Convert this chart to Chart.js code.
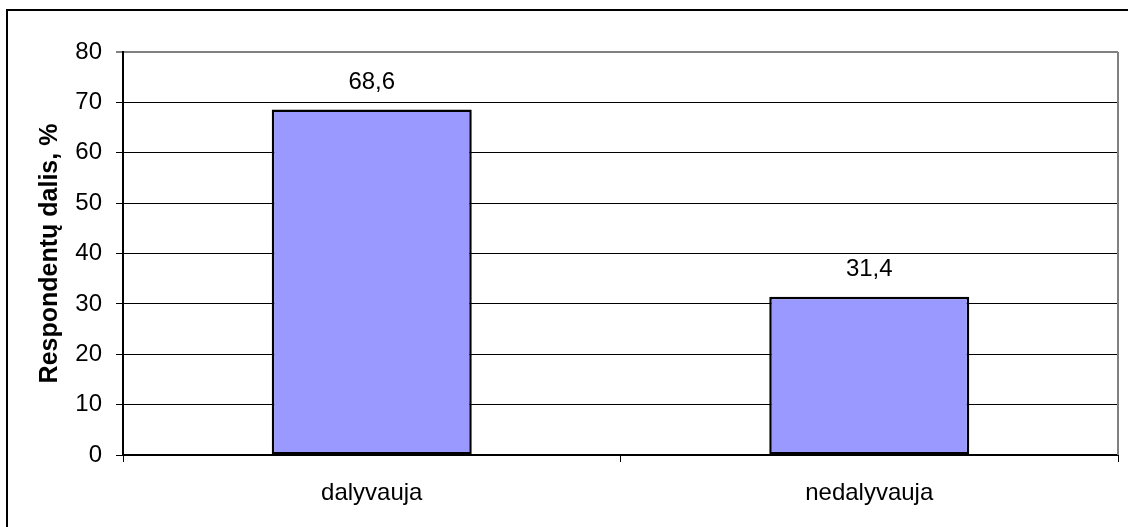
<!DOCTYPE html>
<html>
<head>
<meta charset="utf-8">
<script src="https://cdn.jsdelivr.net/npm/chart.js@4"></script>
<style>
html,body{margin:0;padding:0;background:#fff;}
#wrap{position:relative;width:1128px;height:527px;}
</style>
</head>
<body>
<div id="wrap"><canvas id="c" width="1128" height="527"></canvas></div>
<script>
const categories = ['dalyvauja', 'nedalyvauja'];
const values = [68.6, 31.4];
const yTicks = [0, 10, 20, 30, 40, 50, 60, 70, 80];
const yTitle = 'Respondentų dalis, %';

const FONT = "Arial, 'Liberation Sans', sans-serif";

const framePlugin = {
  id: 'frame',
  beforeDraw(chart) {
    const ctx = chart.ctx;
    ctx.save();
    ctx.fillStyle = '#fff';
    ctx.fillRect(0, 0, chart.width, chart.height);
    ctx.strokeStyle = '#000';
    ctx.lineWidth = 2;
    ctx.strokeRect(7, 10, 1130, 530);
    ctx.restore();
  },
  afterDatasetsDraw(chart) {
    const ctx = chart.ctx;
    const a = chart.chartArea;
    ctx.save();
    ctx.strokeStyle = '#808080';
    ctx.lineWidth = 2;
    ctx.beginPath();
    ctx.moveTo(a.right, a.top);
    ctx.lineTo(a.right, a.bottom);
    ctx.stroke();
    const meta = chart.getDatasetMeta(0);
    ctx.fillStyle = '#000';
    ctx.font = '24px ' + FONT;
    ctx.textAlign = 'center';
    ctx.textBaseline = 'middle';
    meta.data.forEach((el, i) => {
      const v = chart.data.datasets[0].data[i];
      ctx.fillText(v.toFixed(1).replace('.', ','), el.x, el.y - 27);
    });
    ctx.restore();
  }
};

new Chart(document.getElementById('c'), {
  type: 'bar',
  data: {
    labels: categories,
    datasets: [{
      data: values,
      backgroundColor: '#9999FF',
      borderColor: '#000',
      borderWidth: 2.5,
      borderSkipped: false,
      categoryPercentage: 1,
      barPercentage: 0.402
    }]
  },
  options: {
    responsive: false,
    animation: false,
    devicePixelRatio: 1,
    layout: { padding: { left: 0, top: 52, right: 10, bottom: 0 } },
    plugins: { legend: { display: false }, tooltip: { enabled: false } },
    scales: {
      x: {
        offset: true,
        grid: {
          offset: true,
          drawOnChartArea: false,
          drawTicks: true,
          tickLength: 7,
          color: '#000',
          lineWidth: 1
        },
        border: { color: '#000', width: 2 },
        ticks: { color: '#000', font: { family: FONT, size: 24 }, padding: 17, maxRotation: 0 },
        afterFit(s) { s.height = 72; }
      },
      y: {
        min: 0, max: 80,
        afterBuildTicks(s) { s.ticks = yTicks.map(v => ({ value: v })); },
        grid: {
          color: (c) => (c.tick && c.tick.value === 80 ? '#808080' : '#000'),
          lineWidth: (c) => (c.tick && c.tick.value === 80 ? 2 : 1),
          tickLength: 7,
          drawTicks: true
        },
        border: { color: '#000', width: 2 },
        ticks: { color: '#000', font: { family: FONT, size: 24 }, padding: 14 },
        title: {
          display: true,
          text: yTitle,
          color: '#000',
          font: { family: FONT, size: 25, weight: 'bold' },
          padding: { top: 35, bottom: 0 }
        },
        afterFit(s) { s.width = 123; }
      }
    }
  },
  plugins: [framePlugin]
});
</script>
</body>
</html>
